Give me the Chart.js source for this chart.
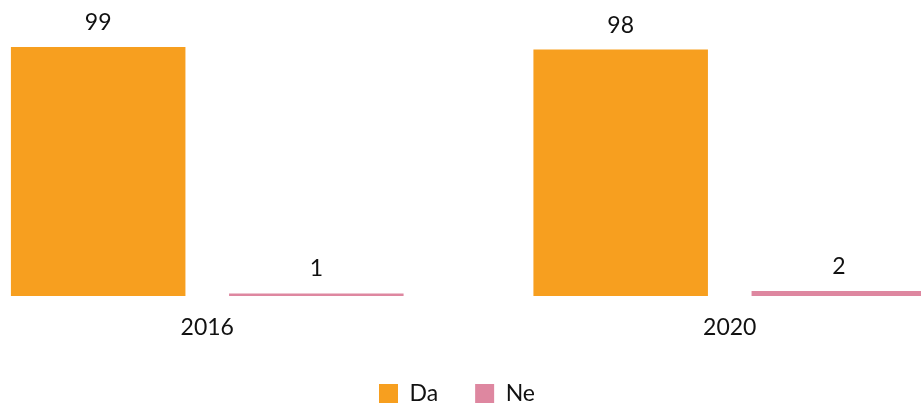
<!DOCTYPE html>
<html>
<head>
<meta charset="utf-8">
<script src="https://cdn.jsdelivr.net/npm/chart.js@4.4.1/dist/chart.umd.min.js"></script>
<style>
  html, body { margin: 0; padding: 0; width: 921px; height: 405px; overflow: hidden; background: #fff; }
  #wrap { position: absolute; left: -77px; top: 0; width: 1068px; height: 415px; }
</style>
</head>
<body>
<div id="wrap"><canvas id="chart"></canvas></div>
<script>
const years = ['2016', '2020'];
const daValues = [99, 98];
const neValues = [1, 2];
const seriesNames = ['Da', 'Ne'];
const colors = ['#F79F1F', '#DE87A0'];

const FONT = 'Lato, "Noto Sans", sans-serif';

// value labels above bars
const valueLabels = {
    id: 'valueLabels',
    afterDatasetsDraw(chart) {
        const ctx = chart.ctx;
        ctx.save();
        ctx.font = '23px ' + FONT;
        ctx.fillStyle = '#111';
        ctx.textAlign = 'center';
        ctx.textBaseline = 'alphabetic';
        chart.data.datasets.forEach((ds, i) => {
            chart.getDatasetMeta(i).data.forEach((bar, j) => {
                ctx.fillText(String(ds.data[j]), bar.x, bar.y - 17);
            });
        });
        ctx.restore();
    }
};

new Chart(document.getElementById('chart'), {
    type: 'bar',
    data: {
        labels: years,
        datasets: [
            { label: seriesNames[0], data: daValues, backgroundColor: colors[0], borderWidth: 0 },
            { label: seriesNames[1], data: neValues, backgroundColor: colors[1], borderWidth: 0 }
        ]
    },
    options: {
        responsive: true,
        maintainAspectRatio: false,
        animation: false,
        layout: { padding: { top: 44.5, left: 0, right: 0, bottom: 0 } },
        datasets: { bar: { categoryPercentage: 0.835, barPercentage: 0.8 } },
        scales: {
            x: {
                grid: { display: false, drawTicks: false },
                border: { display: false },
                ticks: { color: '#111', font: { family: FONT, size: 23 }, padding: 18 },
                afterFit: s => { s.height = 49; }
            },
            y: {
                min: 0, max: 100,
                grid: { display: false, drawTicks: false },
                border: { display: false },
                ticks: { display: false },
                afterFit: s => { s.width = 23; }
            }
        },
        plugins: {
            legend: {
                position: 'bottom',
                labels: {
                    color: '#111',
                    font: { family: FONT, size: 23 },
                    boxWidth: 19, boxHeight: 19,
                    padding: 37
                }
            },
            tooltip: { enabled: false }
        }
    },
    plugins: [valueLabels]
});
</script>
</body>
</html>
